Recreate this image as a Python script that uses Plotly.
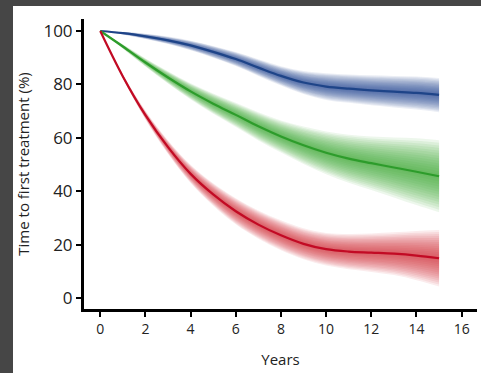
import plotly.graph_objects as go

# Years since diagnosis
years = list(range(16))

# Estimated proportion still untreated (%) with confidence bounds, per group
blue_mid = [100, 99.2, 98.0, 96.5, 94.6, 92.2, 89.5, 86.3, 83.2, 80.7, 79.2, 78.4, 77.8, 77.3, 76.8, 76.1]
blue_hi = [100, 99.7, 99.0, 97.9, 96.4, 94.4, 92.1, 89.4, 86.8, 85.0, 84.2, 83.7, 83.4, 83.2, 83.0, 82.4]
blue_lo = [100, 98.7, 97.0, 95.1, 92.8, 90.0, 86.9, 83.2, 79.6, 76.4, 74.2, 73.1, 72.2, 71.4, 70.6, 69.6]

green_mid = [100, 94.2, 88.2, 82.6, 77.4, 72.8, 68.6, 64.3, 60.5, 57.2, 54.4, 52.2, 50.5, 48.9, 47.3, 45.6]
green_hi = [100, 95.0, 89.7, 84.9, 80.4, 76.6, 73.1, 69.6, 66.5, 64.2, 62.4, 61.2, 60.5, 60.1, 59.8, 59.1]
green_lo = [100, 93.4, 86.7, 80.3, 74.4, 69.0, 64.1, 59.0, 54.5, 50.2, 46.4, 43.2, 40.5, 37.7, 34.8, 32.1]

red_mid = [100, 83.0, 68.5, 56.5, 46.5, 38.8, 32.5, 27.5, 23.5, 20.3, 18.3, 17.4, 17.0, 16.6, 15.9, 14.9]
red_hi = [100, 83.8, 70.1, 59.0, 49.9, 43.0, 37.4, 32.8, 29.1, 26.1, 24.4, 24.0, 24.2, 24.6, 25.1, 25.5]
red_lo = [100, 82.2, 66.9, 54.0, 43.1, 34.6, 27.6, 22.2, 17.9, 14.5, 12.2, 10.8, 9.8, 8.6, 6.7, 4.3]

x_ticks = [0, 2, 4, 6, 8, 10, 12, 14, 16]
y_ticks = [0, 20, 40, 60, 80, 100]

groups = [
    (blue_mid, blue_lo, blue_hi, (35, 62, 140), "#1e4488"),
    (green_mid, green_lo, green_hi, (50, 168, 45), "#2d9c2b"),
    (red_mid, red_lo, red_hi, (208, 40, 52), "#c20a24"),
]

fig = go.Figure()

# Soft-edged confidence bands: nested layers from the outer bound inward
n_layers = 14
for mid, lo, hi, rgb, line_col in groups:
    for k in range(n_layers, 0, -1):
        f = k / n_layers
        up = [m + f * (h - m) for m, h in zip(mid, hi)]
        dn = [m - f * (m - l) for m, l in zip(mid, lo)]
        fig.add_trace(go.Scatter(x=years, y=dn, mode="lines", line=dict(width=0, shape="spline"),
                                 hoverinfo="skip", showlegend=False))
        fig.add_trace(go.Scatter(x=years, y=up, mode="lines", line=dict(width=0, shape="spline"),
                                 fill="tonexty",
                                 fillcolor="rgba(%d,%d,%d,0.09)" % rgb,
                                 hoverinfo="skip", showlegend=False))
    fig.add_trace(go.Scatter(x=years, y=mid, mode="lines",
                             line=dict(color=line_col, width=2.2, shape="spline"),
                             showlegend=False))

# Dark frame strips along the top and left edges
W, H = 481, 373
ml, mr, mt, mb = 84, 4, 19, 64
pw, ph = W - ml - mr, H - mt - mb

def px_x(p):
    return (p - ml) / pw

def px_y(p):
    return (H - mb - p) / ph

frame = "#464646"
fig.add_shape(type="rect", xref="paper", yref="paper",
              x0=px_x(0), x1=px_x(W), y0=px_y(6), y1=px_y(0),
              fillcolor=frame, line_width=0, layer="above")
fig.add_shape(type="rect", xref="paper", yref="paper",
              x0=px_x(0), x1=px_x(13), y0=px_y(H), y1=px_y(0),
              fillcolor=frame, line_width=0, layer="above")

font_family = "Open Sans, Noto Sans, sans-serif"
fig.update_layout(
    width=W, height=H,
    margin=dict(l=ml, r=mr, t=mt, b=mb, pad=0),
    paper_bgcolor="white", plot_bgcolor="white",
    font=dict(family=font_family, color="#222222"),
    xaxis=dict(range=[-0.72, 16.68], tickvals=x_ticks, ticktext=[str(v) for v in x_ticks],
               showgrid=False, zeroline=False, showline=True, linecolor="black", linewidth=3,
               ticks="outside", ticklen=5, tickwidth=2, tickcolor="black",
               tickfont=dict(size=14), title=dict(text="Years", font=dict(size=15), standoff=18)),
    yaxis=dict(range=[-4.1, 104.5], tickvals=y_ticks, ticktext=[str(v) for v in y_ticks],
               showgrid=False, zeroline=False, showline=True, linecolor="black", linewidth=3,
               ticks="outside", ticklen=5, tickwidth=2, tickcolor="black",
               tickfont=dict(size=17),
               title=dict(text="Time to first treatment (%)", font=dict(size=15), standoff=11)),
)

# Plain white page around the figure
page_js = ("document.documentElement.style.background='white';"
           "document.body.style.background='white';"
           "document.documentElement.style.overflow='hidden';"
           "document.body.style.overflow='hidden';")
fig.write_html("out.html", config={"displayModeBar": False}, post_script=page_js)
